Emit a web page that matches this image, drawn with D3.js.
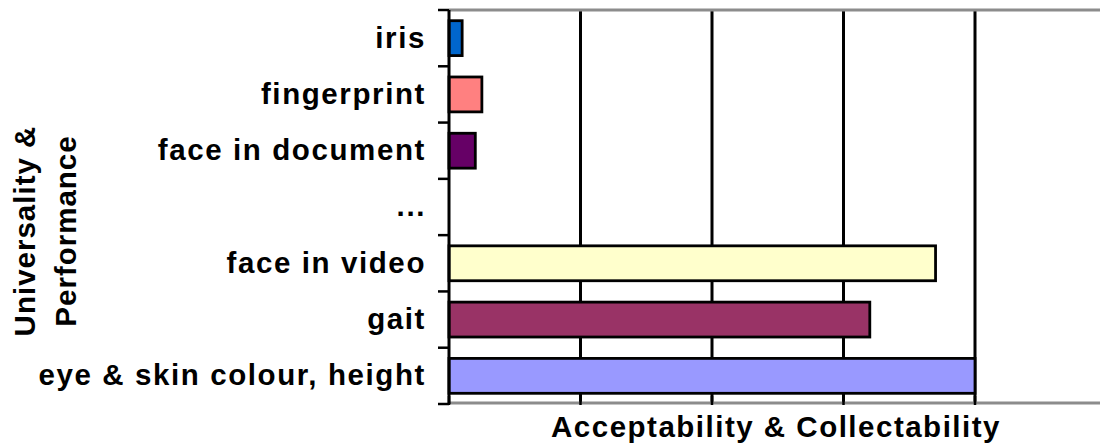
<!DOCTYPE html>
<html>
<head>
<meta charset="utf-8">
<script src="https://cdnjs.cloudflare.com/ajax/libs/d3/7.8.5/d3.min.js"></script>
<style>
    html, body { margin: 0; padding: 0; background: #fff; }
    svg { display: block; }
    text { font-family: 'Liberation Sans', Arial, sans-serif; font-weight: bold; fill: #000; }
</style>
</head>
<body>
<svg id="chart" width="1100" height="448"></svg>
<script>
var categories = [ 'iris', 'fingerprint', 'face in document', '...', 'face in video', 'gait', 'eye & skin colour, height' ],
    values = [ 0.1, 0.25, 0.2, null, 3.7, 3.2, 4.0 ],
    colors = [ '#0066cc', '#ff8080', '#660066', null, '#ffffcc', '#993366', '#9999ff' ],
    xTicks = [ 0, 1, 2, 3, 4 ],
    xTitle = 'Acceptability & Collectability',
    yTitle = [ 'Universality &', 'Performance' ];

(function(){
    'use strict';

    var left = 449,
        top = 10,
        bottom = 404,
        right = 1100,
        svg = d3.select( '#chart' ),
        x = d3.scaleLinear()
            .domain( [ 0, 5 ] )
            .range( [ left, left + 5 * 131.5 ] ),
        y = d3.scaleBand()
            .domain( categories )
            .range( [ top, bottom ] )
            .paddingInner( 0.38 )
            .paddingOuter( 0.19 ),
        step = y.step(),
        bandTop = function( d ){ return y( d ) - y.paddingOuter() * step; },
        rows = categories.map( function( c, i ){
            return { name: c, value: values[i], color: colors[i] };
        });

    // vertical grid lines
    svg.append( 'g' )
        .selectAll( 'line' )
        .data( xTicks.slice( 1 ) )
        .enter().append( 'line' )
        .attr( 'x1', function( d ){ return x( d ); } )
        .attr( 'x2', function( d ){ return x( d ); } )
        .attr( 'y1', top )
        .attr( 'y2', bottom )
        .attr( 'stroke', '#000' )
        .attr( 'stroke-width', 3 );

    // top and bottom frame
    svg.append( 'line' )
        .attr( 'x1', left ).attr( 'x2', right )
        .attr( 'y1', top ).attr( 'y2', top )
        .attr( 'stroke', '#8c8c8c' )
        .attr( 'stroke-width', 3 );

    svg.append( 'line' )
        .attr( 'x1', left ).attr( 'x2', right )
        .attr( 'y1', bottom - 1 ).attr( 'y2', bottom - 1 )
        .attr( 'stroke', '#8c8c8c' )
        .attr( 'stroke-width', 3 );

    // bars
    svg.append( 'g' )
        .selectAll( 'rect' )
        .data( rows.filter( function( r ){ return r.value !== null; } ) )
        .enter().append( 'rect' )
        .attr( 'x', x( 0 ) )
        .attr( 'y', function( d ){ return y( d.name ); } )
        .attr( 'width', function( d ){ return x( d.value ) - x( 0 ); } )
        .attr( 'height', y.bandwidth() )
        .attr( 'fill', function( d ){ return d.color; } )
        .attr( 'stroke', '#000' )
        .attr( 'stroke-width', 2.8 );

    // y axis line and ticks between categories
    svg.append( 'line' )
        .attr( 'x1', left ).attr( 'x2', left )
        .attr( 'y1', top ).attr( 'y2', bottom )
        .attr( 'stroke', '#000' )
        .attr( 'stroke-width', 3 );

    svg.append( 'g' )
        .selectAll( 'line' )
        .data( categories.map( bandTop ).concat( [ bottom ] ) )
        .enter().append( 'line' )
        .attr( 'x1', left - 11 )
        .attr( 'x2', left )
        .attr( 'y1', function( d ){ return d; } )
        .attr( 'y2', function( d ){ return d; } )
        .attr( 'stroke', '#000' )
        .attr( 'stroke-width', 2.5 );

    // x ticks
    svg.append( 'g' )
        .selectAll( 'line' )
        .data( xTicks )
        .enter().append( 'line' )
        .attr( 'x1', function( d ){ return x( d ); } )
        .attr( 'x2', function( d ){ return x( d ); } )
        .attr( 'y1', bottom - 8 )
        .attr( 'y2', bottom + 1 )
        .attr( 'stroke', '#000' )
        .attr( 'stroke-width', 2.5 );

    // category labels
    svg.append( 'g' )
        .selectAll( 'text' )
        .data( categories )
        .enter().append( 'text' )
        .attr( 'x', 426 )
        .attr( 'y', function( d ){ return y( d ) + y.bandwidth() / 2; } )
        .attr( 'dy', '0.32em' )
        .attr( 'text-anchor', 'end' )
        .style( 'font-size', '29.5px' )
        .style( 'letter-spacing', '1.6px' )
        .text( function( d ){ return d; } );

    // axis titles
    svg.append( 'text' )
        .attr( 'x', 776 )
        .attr( 'y', 437 )
        .attr( 'text-anchor', 'middle' )
        .style( 'font-size', '29.5px' )
        .style( 'letter-spacing', '1.5px' )
        .text( xTitle );

    svg.append( 'g' )
        .attr( 'transform', 'translate(0,231) rotate(-90)' )
        .selectAll( 'text' )
        .data( yTitle )
        .enter().append( 'text' )
        .attr( 'x', 0 )
        .attr( 'y', function( d, i ){ return 35 + i * 41; } )
        .attr( 'text-anchor', 'middle' )
        .style( 'font-size', '29.5px' )
        .style( 'letter-spacing', '1px' )
        .text( function( d ){ return d; } );
})();
</script>
</body>
</html>
